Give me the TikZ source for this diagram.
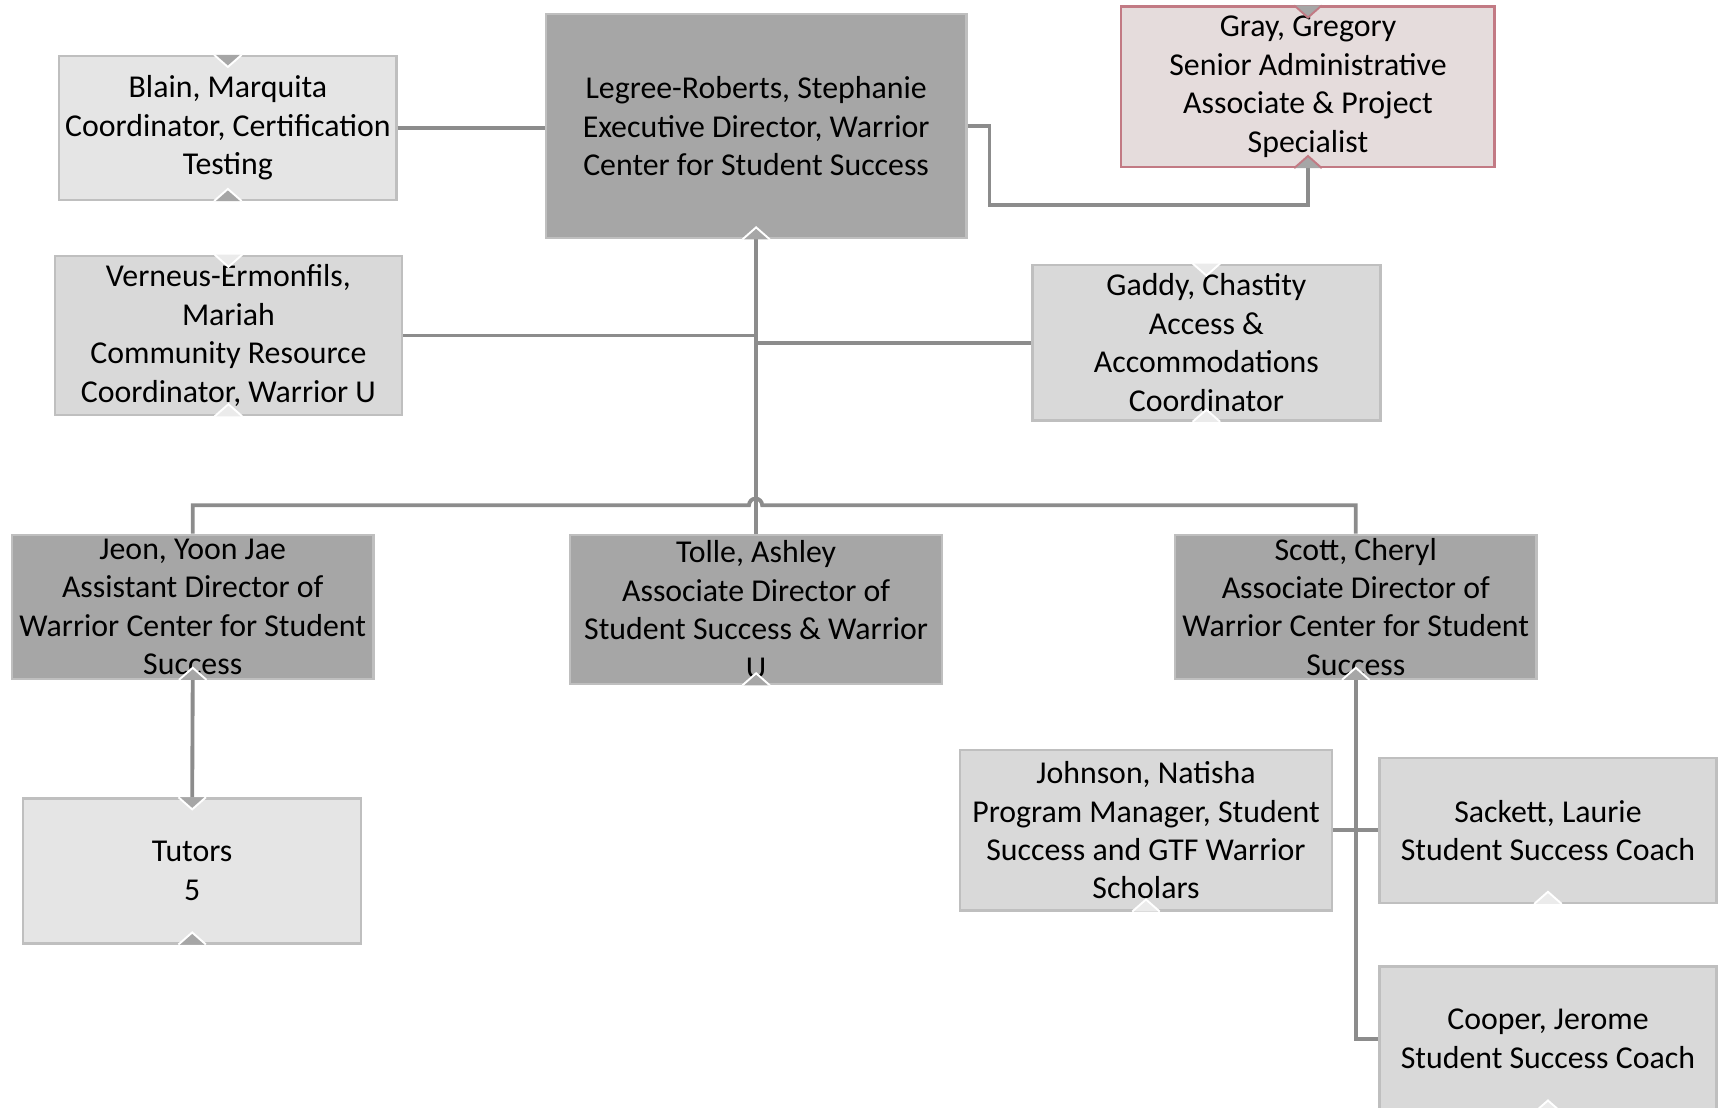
\documentclass[tikz,border=0pt]{standalone}
\usepackage{fontspec}
\setmainfont{Carlito}
\usepackage{tikz}

\definecolor{darkfill}{HTML}{A6A6A6}
\definecolor{midfill}{HTML}{D9D9D9}
\definecolor{lightfill}{HTML}{E5E5E5}
\definecolor{rosefill}{HTML}{E5DCDC}
\definecolor{roseline}{HTML}{C27A84}
\definecolor{boxline}{HTML}{BFBFBF}
\definecolor{linkgray}{HTML}{8C8C8C}
\definecolor{notchlight}{HTML}{EBEBEB}

\tikzset{
  box/.style={draw=boxline, line width=1.2pt, align=center, inner sep=0pt,
    font=\fontsize{16.5}{19.9}\selectfont},
  link/.style={draw=linkgray, line width=2pt},
}

\begin{document}
\begin{tikzpicture}[x=0.02cm, y=-0.02cm]
    \useasboundingbox (0,0) rectangle (1568,1008);

    % top row
    \node[box, fill=darkfill, minimum width=7.66cm, minimum height=4.08cm] (exec) at (688.5,115)
      {Legree-Roberts, Stephanie\\Executive Director, Warrior\\Center for Student Success};
    \node[box, fill=lightfill, minimum width=6.14cm, minimum height=2.62cm] (blain) at (207.5,116.5)
      {Blain, Marquita\\Coordinator, Certification\\Testing};
    \node[box, fill=rosefill, draw=roseline, minimum width=6.80cm, minimum height=2.92cm] (gray) at (1191,79)
      {Gray, Gregory\\Senior Administrative\\Associate \& Project\\Specialist};

    % assistants
    \node[box, fill=midfill, minimum width=6.32cm, minimum height=2.90cm] (verneus) at (208,305.5)
      {Verneus-Ermonfils,\\Mariah\\Community Resource\\Coordinator, Warrior U};
    \node[box, fill=midfill, minimum width=6.34cm, minimum height=2.84cm] (gaddy) at (1098.5,312)
      {Gaddy, Chastity\\Access \&\\Accommodations\\Coordinator};

    % directors
    \node[box, fill=darkfill, minimum width=6.58cm, minimum height=2.62cm] (jeon) at (175.5,552.5)
      {Jeon, Yoon Jae\\Assistant Director of\\Warrior Center for Student\\Success};
    \node[box, fill=darkfill, minimum width=6.78cm, minimum height=2.72cm] (tolle) at (688.5,555)
      {Tolle, Ashley\\Associate Director of\\Student Success \& Warrior\\U};
    \node[box, fill=darkfill, minimum width=6.58cm, minimum height=2.62cm] (scott) at (1234.5,552.5)
      {Scott, Cheryl\\Associate Director of\\Warrior Center for Student\\Success};

    % staff
    \node[box, fill=lightfill, minimum width=6.16cm, minimum height=2.64cm] (tutors) at (175,793)
      {Tutors\\5};
    \node[box, fill=midfill, minimum width=6.78cm, minimum height=2.92cm] (johnson) at (1043.5,756)
      {Johnson, Natisha\\Program Manager, Student\\Success and GTF Warrior\\Scholars};
    \node[box, fill=midfill, minimum width=6.14cm, minimum height=2.64cm] (sackett) at (1409.5,756)
      {Sackett, Laurie\\Student Success Coach};
    \node[box, fill=midfill, minimum width=6.14cm, minimum height=2.64cm] (cooper) at (1409.5,946)
      {Cooper, Jerome\\Student Success Coach};

    % connectors
    \coordinate (graybend) at (901,187);
    \coordinate (bar) at (688,460);
    \draw[link] (blain.east) -- (blain.east -| exec.west);
    \draw[link] (exec.east) -| (graybend) -| (gray.south);
    \draw[link] (exec.south) -- (tolle.north);
    \draw[link] (verneus.east) -- (verneus.east -| exec.south);
    \draw[link] (gaddy.west) -- (gaddy.west -| exec.south);
    \draw[link] (jeon.north) |- ([xshift=-0.12cm]bar) arc[start angle=180, end angle=0, radius=0.12cm] -| (scott.north);
    \draw[link] (jeon.south) -- (tutors.north);
    \draw[link] (scott.south) |- (cooper.west);
    \draw[link] (johnson.east) -- (sackett.west);

    % notches
    \foreach \n/\f/\d in {blain/darkfill/white, gray/darkfill/roseline, verneus/notchlight/white,
                          gaddy/notchlight/white, tutors/darkfill/white}
      \filldraw[fill=\f, draw=\d, line width=1pt]
        ([xshift=-0.25cm]\n.north) -- ([yshift=-0.22cm]\n.north) -- ([xshift=0.25cm]\n.north);
    \foreach \n/\f/\d in {blain/darkfill/white, exec/darkfill/white, gray/darkfill/roseline,
                          verneus/notchlight/white, gaddy/notchlight/white, jeon/darkfill/white,
                          tolle/darkfill/white, scott/darkfill/white, tutors/darkfill/white,
                          johnson/notchlight/white, sackett/notchlight/white, cooper/notchlight/white}
      \filldraw[fill=\f, draw=\d, line width=1pt]
        ([xshift=-0.25cm]\n.south) -- ([yshift=0.22cm]\n.south) -- ([xshift=0.25cm]\n.south);
\end{tikzpicture}
\end{document}
